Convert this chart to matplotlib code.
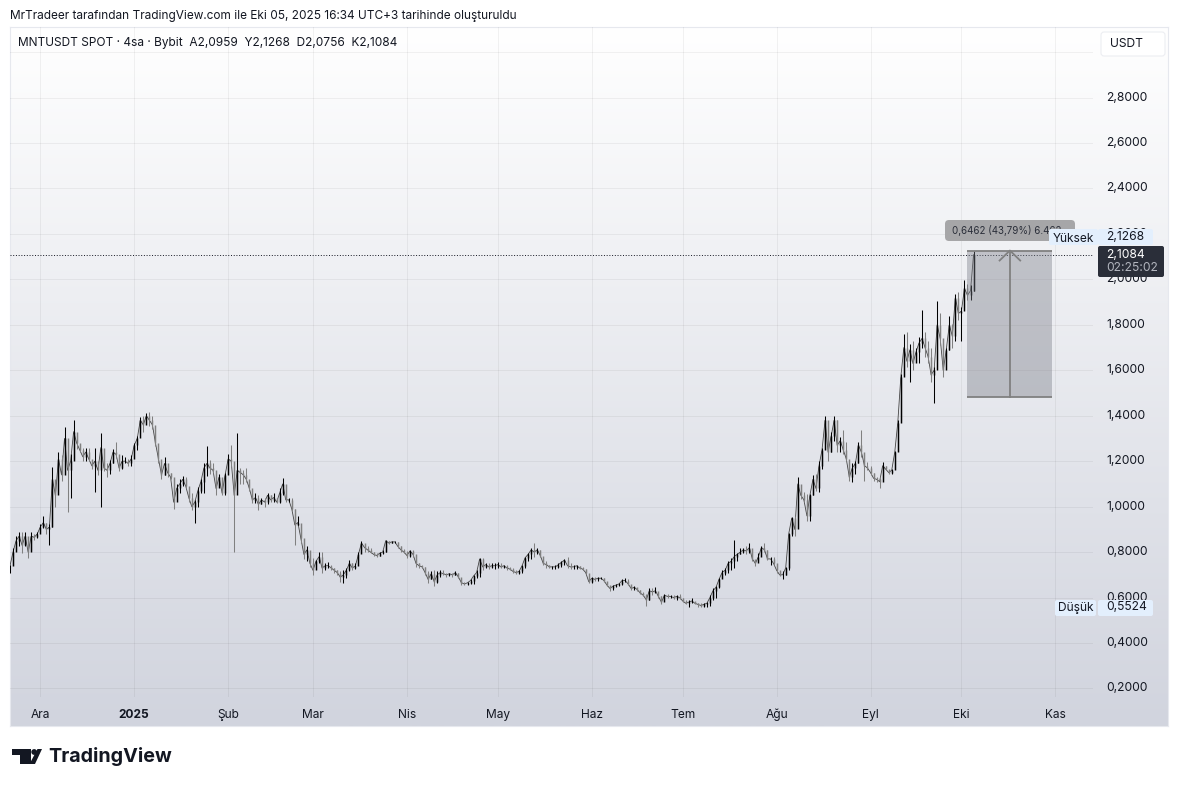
import matplotlib
matplotlib.use("Agg")
import matplotlib.pyplot as plt
import matplotlib.dates as mdates
from matplotlib.patches import Rectangle, FancyBboxPatch, Polygon, Circle
from matplotlib.transforms import ScaledTranslation
import numpy as np
import pandas as pd

plt.rcParams['font.family'] = ['Inter', 'DejaVu Sans']

W, H = 1179, 787

# daily candles, first one is 2024-11-21
low = [.71, .745, .81, .825, .795, .825, .775, .81, .855, .86,
       .89, .905, .88, .83, .91, 1.0, 1.115, 1.115, 1.175, .975,
       1.04, 1.215, 1.255, 1.24, 1.20, 1.20, 1.20, 1.165, 1.065, 1.14,
       1.0, 1.155, 1.13, 1.145, 1.19, 1.215, 1.155, 1.165, 1.19, 1.18,
       1.18, 1.235, 1.25, 1.325, 1.33, 1.365, 1.355, 1.34, 1.265, 1.19,
       1.12, 1.14, 1.13, 1.12, .99, 1.06, 1.06, 1.09, 1.08, 1.02,
       .985, .93, 1.0, 1.06, 1.06, 1.135, 1.145, 1.15, 1.05, 1.087,
       1.05, 1.05, 1.15, 1.175, .80, 1.10, 1.10, 1.10, 1.11, 1.07,
       1.015, 1.015, .985, 1.01, 1.00, 1.01, 1.02, 1.02,
       1.015, 1.015, 1.05, 1.02, 1.02, .98, .83, .92, .84, .77, .76, .735, .70, .74, .75,
       .71, .72, .73, .72, .71, .70, .67,
       .665, .685, .715, .72, .725, .75, .795, .80, .80, .795,
       .785, .78, .785, .79, .80, .835, .84, .84, .82, .80,
       .795, .775, .78, .78, .735, .73, .73, .70, .665, .68,
       .65, .665, .69, .70, .69, .695, .69, .70, .685, .655,
       .655, .655, .66, .66, .685, .69, .72, .73, .725, .73,
       .725, .73, .73, .73, .72, .72, .71, .705, .705, .71,
       .73, .76, .77, .78, .79, .78, .745, .73, .73, .725,
       .725, .73, .735, .745, .73, .725, .725, .725, .725, .72,
       .705, .665, .665, .675, .675, .68, .67, .65, .63, .635,
       .645, .65, .655, .67, .655, .635, .635, .63, .615, .605,
       .565, .59, .61, .62, .60, .57, .59, .60, .60, .595,
       .59, .595, .58, .57, .56, .575, .57, .56, .56, .56,
       .56, .565, .59, .60, .64, .685, .70, .71, .72, .73,
       .76, .79, .795, .79, .795, .76, .74, .76,
       .795, .80, .765, .745, .745, .71, .695, .68, .70, .72,
       .87, .87, .955, 1.035, 1.02, .935, .935, 1.05, 1.07, 1.065,
       1.165, 1.275, 1.20, 1.24, 1.29, 1.24, 1.24, 1.23, 1.20, 1.115,
       1.11, 1.145, 1.19, 1.22, 1.115, 1.16, 1.14, 1.115, 1.11, 1.08,
       1.125, 1.16, 1.145, 1.145, 1.165, 1.245, 1.38, 1.58, 1.615, 1.55,
       1.60, 1.635, 1.63, 1.70, 1.66, 1.63, 1.55, 1.455, 1.645, 1.71,
       1.57, 1.64, 1.69, 1.70, 1.73, 1.82, 1.73, 1.88, 1.91, 1.91, 1.95]

high = [.745, .82, .87, .89, .89, .89, .84, .89, .88, .89,
        .925, .96, .93, .925, 1.175, 1.115, 1.24, 1.225, 1.35, 1.225,
        1.23, 1.38, 1.31, 1.275, 1.26, 1.26, 1.26, 1.20, 1.26, 1.18,
        1.325, 1.20, 1.19, 1.205, 1.255, 1.285, 1.20, 1.225, 1.22, 1.21,
        1.225, 1.28, 1.31, 1.395, 1.40, 1.41, 1.415, 1.40, 1.32, 1.265,
        1.20, 1.22, 1.18, 1.15, 1.12, 1.10, 1.12, 1.135, 1.13, 1.07,
        1.06, 1.03, 1.085, 1.12, 1.19, 1.265, 1.205, 1.19, 1.15, 1.145,
        1.10, 1.15, 1.23, 1.27, 1.10, 1.325, 1.17, 1.16, 1.17, 1.11,
        1.07, 1.06, 1.05, 1.04, 1.04, 1.06, 1.05, 1.06,
        1.035, 1.08, 1.125, 1.05, 1.04, 1.04, .99, .96, .91, .84, .825, .79, .775, .765, .80,
        .80, .75, .755, .745, .73, .72, .715,
        .72, .73, .765, .75, .75, .80, .85, .83, .825, .82,
        .80, .795, .80, .81, .855, .85, .85, .85, .845, .825,
        .815, .805, .81, .81, .76, .75, .745, .735, .715, .715,
        .72, .715, .72, .72, .71, .71, .71, .715, .71, .68,
        .67, .67, .68, .70, .72, .775, .775, .75, .75, .75,
        .75, .755, .75, .745, .745, .735, .73, .72, .72, .745,
        .78, .795, .82, .84, .82, .81, .77, .76, .745, .74,
        .745, .75, .76, .77, .78, .75, .745, .745, .74, .735,
        .725, .685, .69, .69, .69, .69, .685, .67, .65, .655,
        .66, .665, .68, .685, .68, .65, .65, .64, .635, .625,
        .615, .64, .64, .645, .62, .605, .615, .615, .61, .61,
        .61, .615, .60, .59, .59, .60, .58, .575, .575, .575,
        .58, .61, .64, .65, .685, .72, .73, .76, .775, .855,
        .795, .82, .82, .825, .84, .81, .76, .795,
        .825, .84, .81, .78, .78, .745, .715, .715, .735, .885,
        .955, .96, 1.13, 1.095, 1.065, 1.055, 1.055, 1.14, 1.145, 1.20,
        1.26, 1.40, 1.335, 1.33, 1.40, 1.38, 1.305, 1.335, 1.285, 1.195,
        1.19, 1.20, 1.285, 1.335, 1.225, 1.195, 1.18, 1.15, 1.13, 1.13,
        1.195, 1.18, 1.16, 1.165, 1.245, 1.38, 1.585, 1.76, 1.77, 1.715,
        1.73, 1.70, 1.745, 1.865, 1.77, 1.73, 1.70, 1.615, 1.905, 1.85,
        1.715, 1.70, 1.84, 1.805, 1.935, 1.945, 1.88, 1.995, 1.98, 1.975, 2.1268]

close = [.74, .80, .85, .87, .83, .87, .80, .87, .865, .88,
         .91, .93, .90, .91, 1.12, 1.05, 1.21, 1.14, 1.30, 1.16,
         1.20, 1.33, 1.28, 1.25, 1.22, 1.24, 1.21, 1.18, 1.20, 1.16,
         1.26, 1.17, 1.16, 1.19, 1.24, 1.23, 1.17, 1.20, 1.20, 1.19,
         1.21, 1.27, 1.30, 1.38, 1.36, 1.40, 1.38, 1.36, 1.28, 1.21,
         1.14, 1.19, 1.15, 1.13, 1.02, 1.08, 1.10, 1.12, 1.09, 1.04,
         1.0, 1.02, 1.07, 1.11, 1.17, 1.19, 1.17, 1.16, 1.08, 1.13,
         1.06, 1.14, 1.21, 1.20, 1.05, 1.16, 1.15, 1.14, 1.12, 1.08,
         1.03, 1.04, 1.01, 1.03, 1.02, 1.05, 1.03, 1.04,
         1.02, 1.06, 1.10, 1.03, 1.03, .99, .92, .93, .86, .79, .81, .75, .72, .76, .78,
         .73, .74, .74, .73, .72, .71, .69,
         .70, .72, .75, .73, .74, .79, .84, .82, .81, .80,
         .79, .785, .795, .80, .85, .84, .845, .845, .825, .81,
         .80, .785, .805, .79, .75, .74, .735, .71, .68, .705,
         .67, .70, .71, .705, .70, .705, .70, .71, .69, .665,
         .66, .665, .675, .695, .71, .77, .735, .745, .735, .74,
         .74, .745, .735, .74, .73, .725, .715, .71, .715, .74,
         .775, .79, .81, .80, .81, .785, .75, .745, .735, .735,
         .735, .745, .755, .765, .74, .735, .735, .74, .73, .725,
         .71, .67, .685, .68, .685, .685, .675, .655, .64, .65,
         .655, .66, .675, .675, .66, .64, .645, .635, .62, .61,
         .59, .63, .625, .63, .605, .58, .61, .605, .605, .60,
         .605, .60, .585, .575, .58, .585, .575, .57, .565, .57,
         .575, .60, .63, .645, .68, .71, .72, .75, .76, .78,
         .79, .80, .81, .805, .82, .77, .75, .78,
         .82, .81, .77, .77, .75, .72, .70, .70, .73, .88,
         .95, .90, 1.10, 1.05, 1.03, .96, 1.05, 1.12, 1.08, 1.18,
         1.25, 1.38, 1.24, 1.31, 1.38, 1.27, 1.29, 1.25, 1.21, 1.13,
         1.17, 1.19, 1.27, 1.24, 1.18, 1.17, 1.15, 1.125, 1.12, 1.11,
         1.18, 1.165, 1.15, 1.16, 1.24, 1.37, 1.57, 1.70, 1.64, 1.69,
         1.63, 1.68, 1.72, 1.74, 1.70, 1.66, 1.58, 1.60, 1.80, 1.74,
         1.60, 1.69, 1.80, 1.75, 1.92, 1.85, 1.86, 1.96, 1.93, 1.95, 2.1084]

month_dates = ['2024-12-01', '2025-01-01', '2025-02-01', '2025-03-01', '2025-04-01', '2025-05-01',
               '2025-06-01', '2025-07-01', '2025-08-01', '2025-09-01', '2025-10-01', '2025-11-01']
month_labels = ['Ara', '2025', 'Şub', 'Mar', 'Nis', 'May', 'Haz', 'Tem', 'Ağu', 'Eyl', 'Eki', 'Kas']
price_ticks = [0.2, 0.4, 0.6, 0.8, 1.0, 1.2, 1.4, 1.6, 1.8, 2.0, 2.2, 2.4, 2.6, 2.8, 3.0]

last_price = 2.1084
range_low = 1.4806
range_high = 2.1268
range_start = '2025-10-03'
range_end = '2025-10-31'

dates = pd.date_range('2024-11-21', periods=len(close), freq='D')
x = mdates.date2num(dates)
opens = np.array([close[0]] + close[:-1])
closes = np.array(close)
colors = ['#000000' if c >= o else '#808080' for o, c in zip(opens, closes)]

fig = plt.figure(figsize=(W / 100, H / 100), dpi=100, facecolor='white')

# panel background
bg = fig.add_axes([10 / W, 1 - 726 / H, 1158 / W, 699 / H])
top_col = np.array([255, 255, 255]) / 255
bot_col = np.array([209, 212, 222]) / 255
grad = np.linspace(0, 1, 256)[:, None, None] * (bot_col - top_col) + top_col
bg.imshow(grad, aspect='auto', extent=[0, 1, 0, 1])
bg.set_xticks([])
bg.set_yticks([])
for s in bg.spines.values():
    s.set_color('#e6e8ee')

# main chart
ax = fig.add_axes([10 / W, 1 - 697 / H, 1083 / W, 670 / H])
ax.patch.set_alpha(0)
x0 = x[0]
ax.set_xlim(x0, x0 + 1083 / 3.03)
ax.set_ylim(0.1625, 3.1102)
for s in ax.spines.values():
    s.set_visible(False)

month_x = mdates.date2num(pd.to_datetime(month_dates))
ax.set_xticks(month_x)
ax.set_xticklabels(month_labels, fontsize=8.6, color='#131722')
ax.get_xticklabels()[1].set_fontweight('bold')
ax.set_yticks(price_ticks)
ax.set_yticklabels(['' if p == 3.0 else f'{p:.4f}'.replace('.', ',') for p in price_ticks],
                   fontsize=8.7, color='#131722')
ax.yaxis.tick_right()
ax.tick_params(axis='x', length=0, pad=8.5)
ax.tick_params(axis='y', length=0, pad=9.5)
# labels sit a bit above their grid lines
up = ScaledTranslation(0, 1.5 / 100, fig.dpi_scale_trans)
for lab in ax.get_yticklabels():
    lab.set_transform(lab.get_transform() + up)
ax.grid(True, color='#000000', alpha=0.05, linewidth=0.72)
ax.set_axisbelow(True)

ax.plot(x, closes, color='#444444', linewidth=0.6, zorder=2.5)
ax.vlines(x, low, high, colors=colors, linewidth=0.75, zorder=3)
ax.vlines(x, opens, closes, colors=colors, linewidth=1.05, zorder=3)

ax.axhline(last_price, color='#131722', linewidth=0.7, linestyle=(0, (1, 1.8)), zorder=2)

# price range tool
r0, r1 = mdates.date2num(pd.to_datetime([range_start, range_end]))
rm = (r0 + r1) / 2
ax.add_patch(Rectangle((r0, range_low), r1 - r0, range_high - range_low,
                       facecolor='#787b86', alpha=0.4, edgecolor='none', zorder=4))
ax.plot([r0, r1], [range_low, range_low], color='#808080', linewidth=1.3, zorder=5, solid_capstyle='butt')
ax.plot([r0, r1], [range_high, range_high], color='#808080', linewidth=1.3, zorder=5, solid_capstyle='butt')
ax.plot([rm, rm], [range_low, range_high], color='#808080', linewidth=1.3, zorder=5)
ax.plot([rm - 3.4, rm, rm + 3.4], [range_high - 0.044, range_high, range_high - 0.044],
        color='#808080', linewidth=1.3, zorder=5)

# overlay in pixels for tags, header and logo
ov = fig.add_axes([0, 0, 1, 1])
ov.set_xlim(0, W)
ov.set_ylim(H, 0)
ov.axis('off')
ov.patch.set_alpha(0)


def tag(x1, y1, x2, y2, color, radius=2, z=6, ec='none'):
    ov.add_patch(FancyBboxPatch((x1 + radius, y1 + radius), x2 - x1 - 2 * radius, y2 - y1 - 2 * radius,
                                boxstyle=f'round,pad={radius},rounding_size={radius}',
                                facecolor=color, edgecolor=ec, linewidth=0.8, zorder=z))


ov.text(10, 15.5, 'MrTradeer tarafından TradingView.com ile Eki 05, 2025 16:34 UTC+3 tarihinde oluşturuldu',
        fontsize=8.52, color='#131722', va='center')
ov.text(18, 43, 'MNTUSDT SPOT · 4sa · Bybit  A2,0959  Y2,1268  D2,0756  K2,1084',
        fontsize=8.57, color='#131722', va='center')

# USDT box
tag(1101, 32, 1165, 56, '#ffffff', radius=3, ec='#eceef2')
ov.text(1110, 44, 'USDT', fontsize=8.7, color='#131722', va='center', zorder=7)

# range label
tag(945, 220, 1075, 241, '#a6a6a8', radius=4, z=6)
ov.text(952, 230.5, '0,6462 (43,79%) 6.462', fontsize=7, color='#2a2e39', va='center', zorder=7)

# Yüksek tag
tag(1049, 229, 1098, 245, '#e3effd', z=8)
tag(1098, 229, 1153, 245, '#e3effd', z=8)
ov.text(1053, 238.5, 'Yüksek', fontsize=8.6, color='#131722', va='center', zorder=9)
ov.text(1106, 236.5, '2,1268', fontsize=8.7, color='#131722', va='center', zorder=9)

# last price tag
tag(1098, 246, 1164, 277, '#2a2e39', radius=2, z=10)
ov.text(1106, 254.5, '2,1084', fontsize=8.7, color='#ffffff', va='center', zorder=11)
ov.text(1106, 268, '02:25:02', fontsize=8.7, color='#b2b5be', va='center', zorder=11)

# Düşük tag
tag(1055, 600, 1096, 616, '#e3effd', z=8)
tag(1098, 600, 1153, 616, '#e3effd', z=8)
ov.text(1058, 607.5, 'Düşük', fontsize=8.6, color='#131722', va='center', zorder=9)
ov.text(1106, 607.5, '0,5524', fontsize=8.7, color='#131722', va='center', zorder=9)

# logo
ov.add_patch(Polygon([(12, 749), (31, 749), (31, 764), (20, 764), (20, 755), (12, 755)], color='#131722', lw=0))
ov.add_patch(Circle((34.2, 752), 2.9, color='#131722', lw=0))
ov.add_patch(Polygon([(37.5, 749), (42, 749), (35, 764), (29.5, 764)], color='#131722', lw=0))
ov.text(48, 757, 'TradingView', fontsize=14.2, fontweight='bold', color='#131722', va='center')

fig.savefig('out.png', dpi=100)
